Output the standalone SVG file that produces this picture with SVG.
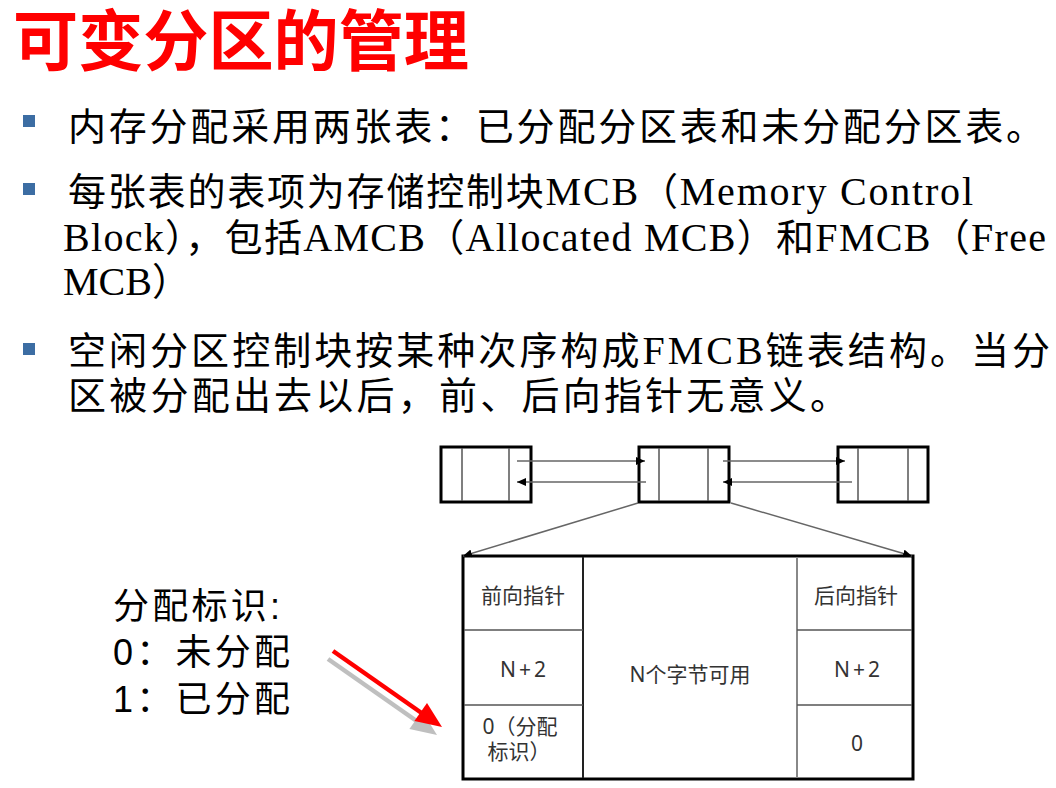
<svg xmlns="http://www.w3.org/2000/svg" width="1056" height="788" viewBox="0 0 1056 788">
  <defs>
    <style>
      .title { font-family: "Noto Sans CJK SC", sans-serif; font-weight: 700; font-size: 66px; fill: #ff0000; }
      .body { font-family: "Liberation Serif", "Noto Sans CJK SC", serif; font-size: 38px; fill: #000; }
      .lat { font-size: 40px; }
      .bullet { fill: #3c6da3; }
      .box { fill: #fff; stroke: #000; stroke-width: 3; }
      .div { stroke: #555; stroke-width: 1.5; fill: none; }
      .link { stroke: #666; stroke-width: 1.5; fill: none; marker-end: url(#ah); }
      .cell { font-family: "Noto Sans", "Noto Sans CJK SC", sans-serif; font-size: 21px; fill: #333; text-anchor: middle; }
      .legend { font-family: "Liberation Sans", "Noto Sans CJK SC", sans-serif; font-size: 36px; fill: #000; }
      .pointer { stroke: #ff0000; stroke-width: 4.5; fill: none; }
      .pointer-head { fill: #ff0000; }
      .shade { stroke: #bfbfbf; stroke-width: 4.5; fill: none; }
      .shade-head { fill: #bfbfbf; }
    </style>
    <marker id="ah" markerUnits="userSpaceOnUse" markerWidth="9" markerHeight="8" refX="9" refY="4" orient="auto">
      <path d="M0,0 L9,4 L0,8 z" fill="#000"/>
    </marker>
  </defs>

  <rect width="1056" height="788" fill="#fff"/>

  <!-- heading -->
  <text class="title" x="13" y="65" textLength="456" lengthAdjust="spacingAndGlyphs">可变分区的管理</text>

  <!-- bullet list -->
  <g id="bullets">
    <rect class="bullet" x="23" y="115" width="12" height="12"/>
    <text class="body" x="68" y="140" textLength="976" lengthAdjust="spacing">内存分配采用两张表：已分配分区表和未分配分区表。</text>

    <rect class="bullet" x="23" y="183" width="12" height="12"/>
    <text class="body" x="68" y="205" textLength="905" lengthAdjust="spacing">每张表的表项为存储控制块<tspan class="lat">MCB</tspan>（<tspan class="lat">Memory Control</tspan></text>
    <text class="body" x="63" y="251" textLength="983" lengthAdjust="spacing"><tspan class="lat">Block</tspan>），包括<tspan class="lat">AMCB</tspan>（<tspan class="lat">Allocated MCB</tspan>）和<tspan class="lat">FMCB</tspan>（<tspan class="lat">Free</tspan></text>
    <text class="body" x="63" y="295"><tspan class="lat">MCB</tspan>）</text>

    <rect class="bullet" x="23" y="343" width="12" height="12"/>
    <text class="body" x="68" y="364" textLength="982" lengthAdjust="spacing">空闲分区控制块按某种次序构成<tspan class="lat">FMCB</tspan>链表结构。当分</text>
    <text class="body" x="68" y="409" textLength="780" lengthAdjust="spacing">区被分配出去以后，前、后向指针无意义。</text>
  </g>

  <!-- free-list blocks -->
  <g id="node-left">
    <rect class="box" x="441" y="447" width="90" height="55"/>
    <line class="div" x1="462" y1="448" x2="462" y2="501"/>
    <line class="div" x1="509" y1="448" x2="509" y2="501"/>
  </g>
  <g id="node-mid">
    <rect class="box" x="639" y="447" width="90" height="55"/>
    <line class="div" x1="659" y1="448" x2="659" y2="501"/>
    <line class="div" x1="708" y1="448" x2="708" y2="501"/>
  </g>
  <g id="node-right">
    <rect class="box" x="838" y="447" width="90" height="55"/>
    <line class="div" x1="858" y1="448" x2="858" y2="501"/>
    <line class="div" x1="908" y1="448" x2="908" y2="501"/>
  </g>

  <!-- control block layout -->
  <g id="node-mcb-table">
    <rect class="box" x="463" y="556" width="450" height="223"/>
    <line class="div" x1="583" y1="557" x2="583" y2="778" style="stroke:#222;stroke-width:2"/>
    <line class="div" x1="797" y1="557" x2="797" y2="778" style="stroke:#888;stroke-width:2"/>
    <line class="div" x1="464" y1="630" x2="583" y2="630"/>
    <line class="div" x1="464" y1="705" x2="583" y2="705"/>
    <line class="div" x1="797" y1="630" x2="912" y2="630"/>
    <line class="div" x1="797" y1="705" x2="912" y2="705"/>
    <text class="cell" x="523" y="603">前向指针</text>
    <text class="cell" x="856" y="603">后向指针</text>
    <text class="cell" x="523" y="677" textLength="46" lengthAdjust="spacing">N+2</text>
    <text class="cell" x="857" y="677" textLength="46" lengthAdjust="spacing">N+2</text>
    <text class="cell" x="690" y="682">N个字节可用</text>
    <text class="cell" x="520" y="734">0（分配</text>
    <text class="cell" x="519" y="759">标识）</text>
    <text class="cell" x="857" y="751">0</text>
  </g>

  <!-- connectors -->
  <g id="connectors">
    <line class="link" x1="517" y1="461" x2="645" y2="461"/>
    <line class="link" x1="646" y1="482" x2="517" y2="482"/>
    <line class="link" x1="723" y1="461" x2="845" y2="461"/>
    <line class="link" x1="852" y1="482" x2="723" y2="482"/>
    <line class="link" x1="638" y1="503" x2="463" y2="556"/>
    <line class="link" x1="731" y1="503" x2="912" y2="556"/>
  </g>

  <!-- allocation flag legend -->
  <g id="legend">
    <text class="legend" x="113" y="619" textLength="167" lengthAdjust="spacing">分配标识:</text>
    <text class="legend" x="113" y="665" textLength="177" lengthAdjust="spacing">0：未分配</text>
    <text class="legend" x="113" y="712" textLength="177" lengthAdjust="spacing">1：已分配</text>
  </g>

  <!-- pointer to the flag cell -->
  <g id="flag-pointer">
    <line class="shade" x1="328" y1="659" x2="418" y2="722"/>
    <polygon class="shade-head" points="437,735 409.4,729.1 422,711.1"/>
    <line class="pointer" x1="333" y1="651" x2="423" y2="714"/>
    <polygon class="pointer-head" points="442,727 414.4,721.1 427,703.1"/>
  </g>
</svg>
